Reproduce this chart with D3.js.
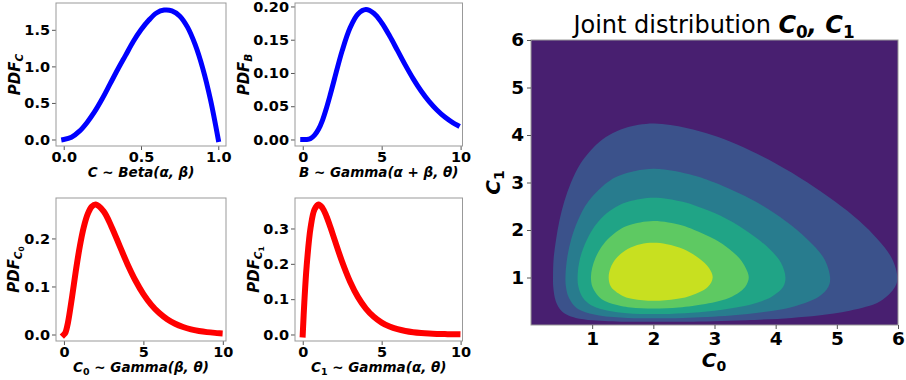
<!DOCTYPE html>
<html>
<head>
<meta charset="utf-8">
<script src="https://cdn.jsdelivr.net/npm/d3@7"></script>
<style>
  body { margin: 0; background: #fff; }
  svg text { font-family: "DejaVu Sans", sans-serif; fill: #000; }
  .tick text { font-weight: bold; }
</style>
</head>
<body>
<div id="chart"></div>
<script>
// marginal densities
const betaX = [0, 0.05, 0.1, 0.15, 0.2, 0.25, 0.3, 0.35, 0.4, 0.45, 0.5, 0.55, 0.6, 0.65, 0.7, 0.75, 0.8, 0.85, 0.9, 0.95, 1];
const betaY = [0, 0.03, 0.11, 0.23, 0.38, 0.56, 0.76, 0.96, 1.15, 1.34, 1.5, 1.63, 1.73, 1.77, 1.76, 1.69, 1.54, 1.3, 0.97, 0.54, 0];

const gammaX = [0, 0.1, 0.25, 0.5, 0.75, 1, 1.25, 1.5, 1.75, 2, 2.5, 3, 3.5, 4, 4.5, 5, 5.5, 6, 6.5, 7, 7.5, 8, 8.5, 9, 9.5, 9.8];
const bY  = [0, 0, 0.0001, 0.0016, 0.0065, 0.0153, 0.0288, 0.0471, 0.068, 0.0902, 0.1336, 0.168, 0.1888, 0.1954, 0.1898, 0.1755, 0.1558, 0.1339, 0.1118, 0.0912, 0.0729, 0.0573, 0.0443, 0.0337, 0.0254, 0.0213];
const c0Y = [0, 0.0045, 0.0243, 0.0758, 0.1329, 0.1839, 0.2238, 0.251, 0.2661, 0.2707, 0.2565, 0.224, 0.185, 0.1465, 0.1125, 0.0842, 0.0618, 0.0446, 0.0318, 0.0223, 0.0156, 0.0107, 0.0074, 0.005, 0.0034, 0.0027];
const c1Y = [0, 0.0905, 0.1947, 0.3033, 0.3543, 0.3679, 0.3581, 0.3347, 0.3041, 0.2707, 0.2052, 0.1494, 0.1057, 0.0733, 0.05, 0.0337, 0.0225, 0.0149, 0.0098, 0.0064, 0.0042, 0.0027, 0.0017, 0.0011, 0.0007, 0.0005];

// filled contour boundaries of the joint plot, [C0, C1], lowest level first
const level1 = [[2,0.066],[2.53,0.07],[2.99,0.08],[3.52,0.1],[4.26,0.15],[4.7,0.2],[5.21,0.3],[5.71,0.5],[5.95,0.8],[5.99,1.0],[5.9,1.4],[5.67,1.8],[5.36,2.2],[4.97,2.6],[4.52,3.0],[4.0,3.4],[3.37,3.8],[2.96,4.0],[2.54,4.15],[2,4.24],
  [1.54,4.15],[1.28,4.0],[1.07,3.8],[0.81,3.4],[0.654,3.0],[0.544,2.6],[0.465,2.2],[0.41,1.8],[0.37,1.4],[0.36,1.0],[0.364,0.8],[0.405,0.5],[0.495,0.3],[0.611,0.2],[0.731,0.15],[1.0,0.1],[1.264,0.08],[1.55,0.07]];
const level2 = [[2,0.141],[2.49,0.15],[3.27,0.2],[3.96,0.3],[4.33,0.4],[4.71,0.6],[4.86,0.8],[4.89,1.0],[4.79,1.4],[4.52,1.8],[4.15,2.2],[3.67,2.6],[3.0,3.0],[2.66,3.15],[2,3.29],
  [1.45,3.15],[1.245,3.0],[0.937,2.6],[0.766,2.2],[0.656,1.8],[0.59,1.4],[0.563,1.0],[0.572,0.8],[0.61,0.6],[0.71,0.4],[0.827,0.3],[1.115,0.2],[1.58,0.15]];
const level3 = [[2,0.232],[2.51,0.25],[3.0,0.3],[3.49,0.4],[3.77,0.5],[3.94,0.6],[4.12,0.8],[4.16,1.0],[4.09,1.3],[3.9,1.6],[3.5,2.0],[3.1,2.3],[2.71,2.5],[2.46,2.6],[2,2.68],
  [1.6,2.6],[1.41,2.5],[1.19,2.3],[1.0,2.0],[0.85,1.6],[0.785,1.3],[0.762,1.0],[0.776,0.8],[0.835,0.6],[0.898,0.5],[1.01,0.4],[1.26,0.3],[1.57,0.25]];
const level4 = [[2,0.348],[2.41,0.37],[2.64,0.4],[3.06,0.5],[3.29,0.6],[3.5,0.8],[3.56,1.0],[3.51,1.2],[3.41,1.4],[3.24,1.6],[3.01,1.8],[2.67,2.0],[2.46,2.1],[2,2.19],
  [1.6,2.1],[1.44,2.0],[1.25,1.8],[1.13,1.6],[1.05,1.4],[1.0,1.2],[0.98,1.0],[1.005,0.8],[1.107,0.6],[1.217,0.5],[1.47,0.4],[1.63,0.37]];
const level5 = [[2,0.51],[2.37,0.55],[2.57,0.6],[2.89,0.8],[2.97,1.0],[2.91,1.2],[2.75,1.4],[2.49,1.6],[2.22,1.7],[2,1.73],
  [1.79,1.7],[1.58,1.6],[1.39,1.4],[1.3,1.2],[1.27,1.0],[1.31,0.8],[1.52,0.6],[1.67,0.55]];
const levels = [level1, level2, level3, level4, level5];

const jointTicks = [1, 2, 3, 4, 5, 6];

const svg = d3.select("#chart").append("svg")
  .attr("width", 906).attr("height", 380);

// text with sub/sub-sub scripts: parts = [[string, level]]
function rich(sel, parts, size, italic) {
  const sizes = [size, size * 0.7, size * 0.5];
  const offs = [0, size * 0.22, size * 0.36];
  let prev = 0;
  parts.forEach(p => {
    sel.append("tspan")
      .attr("dy", offs[p[1]] - prev)
      .attr("font-size", sizes[p[1]])
      .attr("font-style", p[2] === false ? "normal" : (italic ? "italic" : "normal"))
      .text(p[0]);
    prev = offs[p[1]];
  });
  return sel;
}

function panel(o) {
  const x = d3.scaleLinear().domain(o.xd).range([o.x0, o.x1]);
  const y = d3.scaleLinear().domain(o.yd).range([o.y1, o.y0]);
  const g = svg.append("g");

  g.append("g")
    .attr("transform", `translate(0,${o.y1})`)
    .call(d3.axisBottom(x).tickValues(o.xt).tickFormat(d3.format(o.xf)).tickSize(4).tickPadding(2))
    .call(a => a.select(".domain").remove())
    .call(a => a.selectAll("line").attr("stroke", "#555"))
    .call(a => a.selectAll("text").attr("font-size", 14.5));

  g.append("g")
    .attr("transform", `translate(${o.x0},0)`)
    .call(d3.axisLeft(y).tickValues(o.yt).tickFormat(d3.format(o.yf)).tickSize(4).tickPadding(2))
    .call(a => a.select(".domain").remove())
    .call(a => a.selectAll("line").attr("stroke", "#555"))
    .call(a => a.selectAll("text").attr("font-size", 14.5));

  const line = d3.line()
    .x((d, i) => x(o.xs[i]))
    .y(d => y(d))
    .curve(d3.curveCatmullRom.alpha(0.5));

  g.append("path")
    .datum(o.ys)
    .attr("fill", "none")
    .attr("stroke", o.color)
    .attr("stroke-width", o.lw)
    .attr("stroke-linecap", "square")
    .attr("stroke-linejoin", "round")
    .attr("d", line);

  g.append("rect")
    .attr("x", o.x0).attr("y", o.y0)
    .attr("width", o.x1 - o.x0).attr("height", o.y1 - o.y0)
    .attr("fill", "none").attr("stroke", "#999");

  rich(g.append("text")
    .attr("text-anchor", "middle")
    .attr("font-weight", "bold")
    .attr("x", (o.x0 + o.x1) / 2).attr("y", o.y1 + 31), o.xlab, 13.5, true);

  rich(g.append("text")
    .attr("text-anchor", "middle")
    .attr("font-weight", "bold")
    .attr("transform", `translate(${o.ylx},${(o.y0 + o.y1) / 2}) rotate(-90)`), o.ylab, 15, true);
}

panel({ x0: 56, x1: 226, y0: 3, y1: 146, xd: [-0.05, 1.05], yd: [-0.0889, 1.8667],
  xt: [0, 0.5, 1], xf: ".1f", yt: [0, 0.5, 1, 1.5], yf: ".1f",
  xs: betaX, ys: betaY, color: "#0000ff", lw: 5, ylx: 20,
  xlab: [["C ~ Beta(α, β)", 0]], ylab: [["PDF", 0], ["C", 1]] });

panel({ x0: 295, x1: 462.5, y0: 3, y1: 146, xd: [-0.49, 10.12], yd: [-0.0098, 0.2052],
  xt: [0, 5, 10], xf: "d", yt: [0, 0.05, 0.1, 0.15, 0.2], yf: ".2f",
  xs: gammaX, ys: bY, color: "#0000ff", lw: 5, ylx: 249,
  xlab: [["B ~ Gamma(α + β, θ)", 0]], ylab: [["PDF", 0], ["B", 1]] });

panel({ x0: 56, x1: 226, y0: 198, y1: 341, xd: [-0.5, 10.2], yd: [-0.0135, 0.2842],
  xt: [0, 5, 10], xf: "d", yt: [0, 0.1, 0.2], yf: ".1f",
  xs: gammaX, ys: c0Y, color: "#ff0000", lw: 6, ylx: 19,
  xlab: [["C", 0], ["0", 1, false], [" ~ Gamma(β, θ)", 0]], ylab: [["PDF", 0], ["C", 1], ["0", 2, false]] });

panel({ x0: 295, x1: 462.5, y0: 198, y1: 341, xd: [-0.49, 10.12], yd: [-0.0184, 0.3863],
  xt: [0, 5, 10], xf: "d", yt: [0, 0.1, 0.2, 0.3], yf: ".1f",
  xs: gammaX, ys: c1Y, color: "#ff0000", lw: 6, ylx: 259,
  xlab: [["C", 0], ["1", 1, false], [" ~ Gamma(α, θ)", 0]], ylab: [["PDF", 0], ["C", 1], ["1", 2, false]] });

// joint distribution
const jx = d3.scaleLinear().domain([0, 6]).range([531, 898]);
const jy = d3.scaleLinear().domain([0, 6]).range([325, 40]);
const jg = svg.append("g");

jg.append("clipPath").attr("id", "jclip")
  .append("rect").attr("x", 531).attr("y", 40).attr("width", 367).attr("height", 285);

jg.append("rect")
  .attr("x", 531).attr("y", 40).attr("width", 367).attr("height", 285)
  .attr("fill", d3.interpolateViridis(1 / 12));

const area = d3.line().x(d => jx(d[0])).y(d => jy(d[1])).curve(d3.curveCatmullRomClosed);

jg.append("g").attr("clip-path", "url(#jclip)")
  .selectAll("path").data(levels).enter().append("path")
  .attr("fill", (d, i) => d3.interpolateViridis((2 * i + 3) / 12))
  .attr("d", area);

jg.append("rect")
  .attr("x", 531).attr("y", 40).attr("width", 367).attr("height", 285)
  .attr("fill", "none").attr("stroke", "#999");

jg.append("g")
  .attr("transform", "translate(0,325)")
  .call(d3.axisBottom(jx).tickValues(jointTicks).tickFormat(d3.format("d")).tickSize(4).tickPadding(3))
  .call(a => a.select(".domain").remove())
  .call(a => a.selectAll("line").attr("stroke", "#555"))
  .call(a => a.selectAll("text").attr("font-size", 18.5));

jg.append("g")
  .attr("transform", "translate(531,0)")
  .call(d3.axisLeft(jy).tickValues(jointTicks).tickFormat(d3.format("d")).tickSize(4).tickPadding(3))
  .call(a => a.select(".domain").remove())
  .call(a => a.selectAll("line").attr("stroke", "#555"))
  .call(a => a.selectAll("text").attr("font-size", 18.5));

const title = jg.append("text").attr("text-anchor", "middle").attr("x", 714).attr("y", 33);
title.append("tspan").attr("font-size", 24).text("Joint distribution ");
const tb = title.append("tspan").attr("font-weight", "bold");
rich(tb, [["C", 0], ["0", 1, false], [", C", 0], ["1", 1, false]], 24, true);

rich(jg.append("text").attr("text-anchor", "middle").attr("font-weight", "bold")
  .attr("x", 714).attr("y", 367), [["C", 0], ["0", 1, false]], 20, true);

rich(jg.append("text").attr("text-anchor", "middle").attr("font-weight", "bold")
  .attr("transform", "translate(500,182.5) rotate(-90)"), [["C", 0], ["1", 1, false]], 20, true);
</script>
</body>
</html>
